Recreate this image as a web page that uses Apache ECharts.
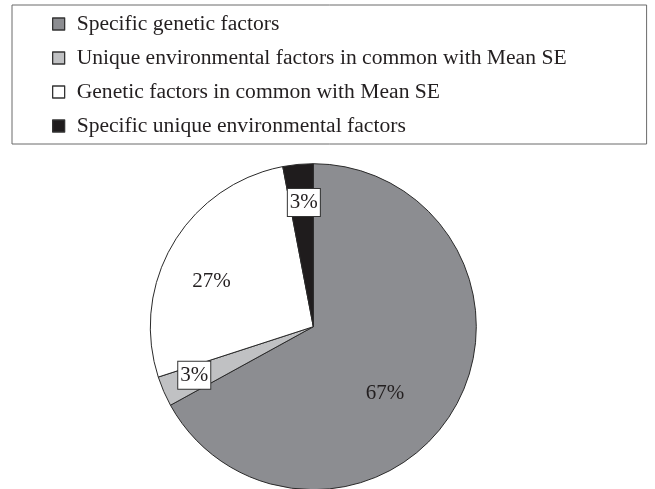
<!DOCTYPE html>
<html>
<head>
<meta charset="utf-8">
<script src="https://cdn.jsdelivr.net/npm/echarts@6/dist/echarts.min.js"></script>
<style>html,body{margin:0;padding:0;background:#fff;}#c{width:655px;height:489px;}</style>
</head>
<body>
<div id="c"></div>
<script>
const categories = [
  'Specific genetic factors',
  'Unique environmental factors in common with Mean SE',
  'Genetic factors in common with Mean SE',
  'Specific unique environmental factors'
];
const values = [67, 3, 27, 3];
const colors = ['#8c8d91', '#c0c1c3', '#ffffff', '#1f1c1d'];
// label styling (boxed small labels) and placement nudges
const labelBoxed = [false, true, false, true];
const labelNudge = [[-1, 23.5], [-41.5, 15], [-29, -2], [-1.5, -40]];

const font = '"Liberation Serif", "Times New Roman", serif';
const data = categories.map((name, i) => {
  const lbl = {
    offset: labelNudge[i]
  };
  if (labelBoxed[i]) {
    Object.assign(lbl, {
      backgroundColor: '#ffffff',
      borderColor: '#333333',
      borderWidth: 1,
      padding: [4, 2, 2, 2]
    });
  }
  return { name, value: values[i], itemStyle: { color: colors[i] }, label: lbl };
});

const chart = echarts.init(document.getElementById('c'), null, { renderer: 'canvas' });
chart.setOption({
  animation: false,
  backgroundColor: '#ffffff',
  legend: {
    orient: 'vertical',
    left: 12,
    top: 5,
    padding: [8, 80, 7, 40],
    borderColor: '#6a6a6a',
    borderWidth: 1,
    itemWidth: 12,
    itemHeight: 12,
    itemGap: 12,
    icon: 'rect',
    selectedMode: false,
    data: categories,
    itemStyle: { borderColor: '#333333', borderWidth: 1.3 },
    textStyle: {
      fontFamily: font,
      fontSize: 21.6,
      lineHeight: 22,
      color: '#231f20',
      padding: [0, 0, 0, 7]
    }
  },
  series: [{
    type: 'pie',
    center: [313.3, 326.7],
    radius: 163,
    startAngle: 90,
    clockwise: true,
    silent: true,
    emphasis: { disabled: true },
    itemStyle: { borderColor: '#2a2a2a', borderWidth: 1 },
    label: {
      show: true,
      position: 'inside',
      formatter: '{c}%',
      fontFamily: font,
      fontSize: 21,
      lineHeight: 21,
      color: '#231f20'
    },
    labelLine: { show: false },
    data: data
  }]
});
</script>
</body>
</html>
